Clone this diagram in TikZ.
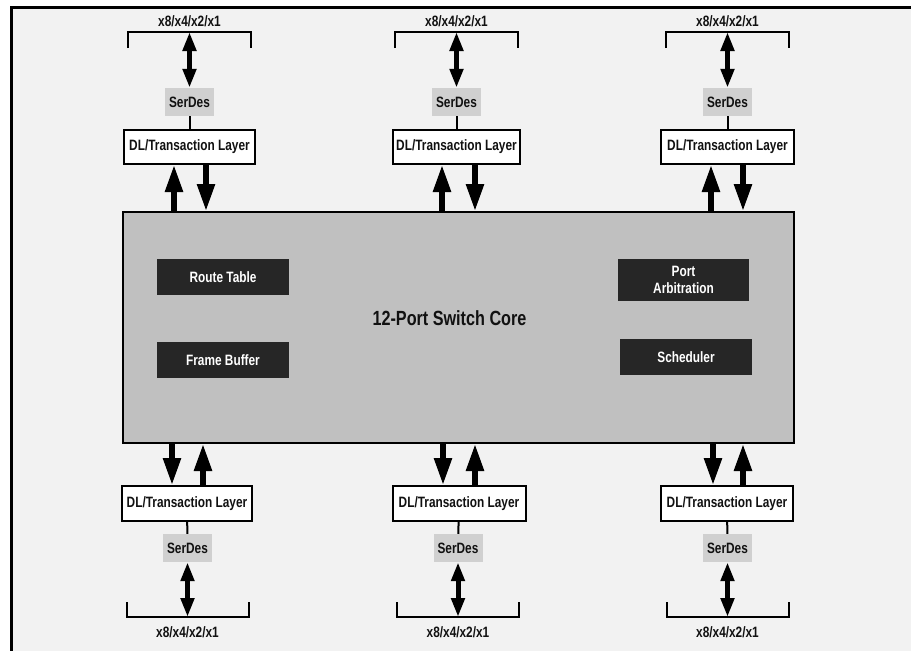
\documentclass[tikz,border=0pt]{standalone}
\usepackage{fontspec}
\newfontfamily\lab{Liberation Sans}[FakeStretch=0.79]
\usetikzlibrary{arrows.meta}
\definecolor{bgc}{HTML}{F2F2F2}
\definecolor{corec}{HTML}{C0C0C0}
\definecolor{sdc}{HTML}{D0D0D0}
\definecolor{modc}{HTML}{262626}
\definecolor{txt}{HTML}{111111}
\tikzset{
  small/.style={font=\lab\bfseries\fontsize{15}{16}\selectfont, text=txt},
  dlbox/.style={small, draw=black, line width=2pt, fill=white, minimum height=34pt, inner sep=0pt},
  serdes/.style={small, fill=sdc, minimum width=49pt, minimum height=28pt, inner sep=0pt},
  module/.style={font=\lab\bfseries\fontsize{15}{17}\selectfont, text=white, fill=modc, minimum width=132pt, minimum height=36pt, inner sep=0pt, align=center},
  lbl/.style={small},
  wire/.style={line width=2pt, black},
  bracket/.style={line width=2pt, black},
  bigarrow/.style={line width=5.5pt, black, -{Triangle[width=17pt,length=27pt]}},
  dblarrow/.style={line width=5pt, black, {Triangle[width=13pt,length=19pt]}-{Triangle[width=13pt,length=19pt]}},
}
\begin{document}
\begin{tikzpicture}[x=1pt,y=-1pt]
\useasboundingbox (0,0) rectangle (911,651);
\fill[white] (0,0) rectangle (911,651);
\fill[bgc] (10,7) rectangle (911,651);
\draw[line width=3pt] (11.5,651) -- (11.5,7) -- (911,7);
% core
\node[draw=black, line width=2pt, fill=corec, minimum width=671pt, minimum height=231pt, inner sep=0pt] (core) at (458.5,327.5) {};
\node[font=\lab\bfseries\fontsize{20.5}{22}\selectfont, text=txt] (corelbl) at (449.5,318) {12-Port Switch Core};
\node[module] (rt) at (223,277) {Route Table};
\node[module] (fb) at (223,360) {Frame Buffer};
\node[module, minimum width=131pt, minimum height=42pt] (pa) at (683.5,280) {Port\\Arbitration};
\node[module] (sch) at (686,357) {Scheduler};
% top ports
\foreach \i/\cx/\w/\ua/\da in {1/189.5/131/174/206, 2/456.5/127/442/475, 3/727.5/133/711/743}{
  \node[dlbox, minimum width=\w pt] (tdl\i) at (\cx,147) {DL/Transaction Layer};
  \node[serdes] (tsd\i) at (\cx,102) {SerDes};
  \node[lbl] (tlb\i) at (\cx,21) {x8/x4/x2/x1};
  \draw[bracket] (\cx-61.5,48) -- (\cx-61.5,32) -- (\cx+61.5,32) -- (\cx+61.5,48);
  \coordinate (tbr\i) at (\cx,32);
  \draw[dblarrow] (tbr\i) -- (tsd\i.north);
  \draw[wire] (tsd\i) -- (tdl\i);
  \coordinate (tu\i) at (\ua,0);
  \coordinate (td\i) at (\da,0);
  \draw[bigarrow] (core.north -| tu\i) -- (tdl\i.south -| tu\i);
  \draw[bigarrow] (tdl\i.south -| td\i) -- (core.north -| td\i);
}
% bottom ports
\foreach \i/\cx/\w/\da/\ua/\sx in {1/187/130/172/203/187.5, 2/459/133/443/475/458, 3/727/132/713/743/727.5}{
  \node[dlbox, minimum width=\w pt, minimum height=35pt] (bdl\i) at (\cx,503.5) {DL/Transaction Layer};
  \node[serdes] (bsd\i) at (\sx,548) {SerDes};
  \node[lbl] (blb\i) at (\sx,632) {x8/x4/x2/x1};
  \draw[bracket] (\sx-61,602) -- (\sx-61,617) -- (\sx+61,617) -- (\sx+61,602);
  \coordinate (bbr\i) at (\sx,617);
  \draw[dblarrow] (bsd\i.south) -- (bbr\i);
  \draw[wire] (bdl\i) -- (bsd\i);
  \coordinate (bu\i) at (\ua,0);
  \coordinate (bd\i) at (\da,0);
  \draw[bigarrow] (core.south -| bd\i) -- (bdl\i.north -| bd\i);
  \draw[bigarrow] (bdl\i.north -| bu\i) -- (core.south -| bu\i);
}
\end{tikzpicture}
\end{document}
